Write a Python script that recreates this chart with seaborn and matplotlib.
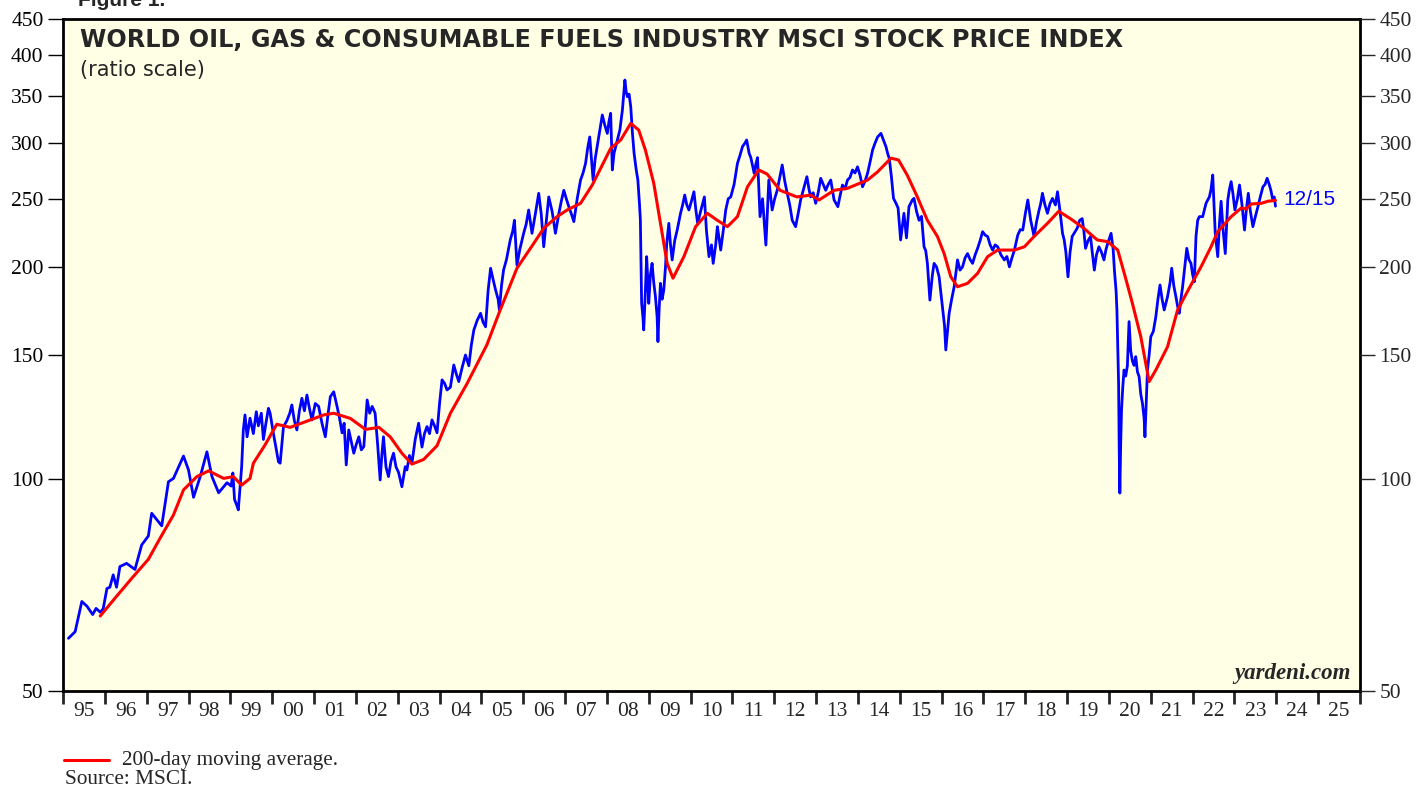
import matplotlib
matplotlib.use("Agg")
import matplotlib.pyplot as plt
from matplotlib.ticker import FixedLocator, NullLocator, NullFormatter, FixedFormatter
import seaborn as sns
import pandas as pd

# ---------------- data ----------------
blue_dates = [
    1995.13, 1995.29, 1995.45, 1995.57, 1995.71, 1995.79, 1995.89, 1995.96,
    1996.05, 1996.12, 1996.20, 1996.28, 1996.36, 1996.52, 1996.72, 1996.88,
    1997.04, 1997.12, 1997.36, 1997.52, 1997.64, 1997.88, 1998.00, 1998.12,
    1998.28, 1998.44, 1998.56, 1998.72, 1998.92, 1999.02, 1999.06, 1999.10,
    1999.15, 1999.19, 1999.27, 1999.31, 1999.35, 1999.40, 1999.47, 1999.55,
    1999.62, 1999.67, 1999.74, 1999.79, 1999.85, 1999.91, 1999.95, 2000.03,
    2000.10, 2000.15, 2000.19, 2000.27, 2000.35, 2000.42, 2000.47, 2000.53,
    2000.59, 2000.65, 2000.71, 2000.77, 2000.83, 2000.89, 2000.95, 2001.03,
    2001.11, 2001.19, 2001.27, 2001.33, 2001.39, 2001.47, 2001.55, 2001.61,
    2001.67, 2001.72, 2001.77, 2001.83, 2001.89, 2001.95, 2002.01, 2002.07,
    2002.13, 2002.19, 2002.27, 2002.33, 2002.39, 2002.46, 2002.52, 2002.58,
    2002.62, 2002.66, 2002.72, 2002.78, 2002.84, 2002.90, 2002.96, 2003.02,
    2003.10, 2003.18, 2003.22, 2003.28, 2003.34, 2003.42, 2003.50, 2003.58,
    2003.64, 2003.70, 2003.76, 2003.82, 2003.88, 2003.94, 2004.00, 2004.06,
    2004.12, 2004.18, 2004.26, 2004.34, 2004.40, 2004.46, 2004.54, 2004.62,
    2004.70, 2004.76, 2004.82, 2004.90, 2004.98, 2005.04, 2005.10, 2005.16,
    2005.22, 2005.28, 2005.34, 2005.40, 2005.43, 2005.48, 2005.53, 2005.60,
    2005.69, 2005.75, 2005.79, 2005.85, 2005.92, 2006.01, 2006.07, 2006.13,
    2006.21, 2006.29, 2006.37, 2006.43, 2006.49, 2006.55, 2006.61, 2006.69,
    2006.77, 2006.85, 2006.91, 2006.97, 2007.03, 2007.09, 2007.15, 2007.21,
    2007.29, 2007.37, 2007.43, 2007.49, 2007.54, 2007.59, 2007.63, 2007.67,
    2007.72, 2007.78, 2007.84, 2007.89, 2007.95, 2008.01, 2008.05, 2008.09,
    2008.13, 2008.17, 2008.21, 2008.26, 2008.31, 2008.37, 2008.43, 2008.46,
    2008.49, 2008.53, 2008.57, 2008.61, 2008.65, 2008.70, 2008.74, 2008.78,
    2008.80, 2008.83, 2008.86, 2008.88, 2008.92, 2008.95, 2008.98, 2009.00,
    2009.04, 2009.08, 2009.12, 2009.16, 2009.20, 2009.22, 2009.25, 2009.28,
    2009.32, 2009.36, 2009.40, 2009.43, 2009.48, 2009.52, 2009.56, 2009.62,
    2009.68, 2009.72, 2009.76, 2009.81, 2009.86, 2009.91, 2009.96, 2010.02,
    2010.08, 2010.13, 2010.17, 2010.24, 2010.33, 2010.38, 2010.44, 2010.50,
    2010.54, 2010.60, 2010.64, 2010.68, 2010.72, 2010.78, 2010.84, 2010.90,
    2010.96, 2011.04, 2011.12, 2011.18, 2011.24, 2011.30, 2011.34, 2011.40,
    2011.44, 2011.52, 2011.56, 2011.60, 2011.66, 2011.72, 2011.80, 2011.87,
    2011.95, 2012.01, 2012.07, 2012.13, 2012.19, 2012.25, 2012.31, 2012.37,
    2012.43, 2012.51, 2012.57, 2012.63, 2012.70, 2012.78, 2012.83, 2012.87,
    2012.93, 2012.99, 2013.05, 2013.11, 2013.17, 2013.23, 2013.29, 2013.35,
    2013.43, 2013.52, 2013.57, 2013.63, 2013.69, 2013.75, 2013.81, 2013.87,
    2013.93, 2013.99, 2014.05, 2014.11, 2014.17, 2014.23, 2014.29, 2014.35,
    2014.41, 2014.47, 2014.55, 2014.61, 2014.67, 2014.71, 2014.75, 2014.80,
    2014.85, 2014.91, 2014.96, 2015.02, 2015.10, 2015.16, 2015.22, 2015.30,
    2015.34, 2015.40, 2015.46, 2015.52, 2015.58, 2015.62, 2015.66, 2015.72,
    2015.78, 2015.82, 2015.88, 2015.94, 2016.02, 2016.07, 2016.10, 2016.14,
    2016.18, 2016.24, 2016.30, 2016.38, 2016.44, 2016.50, 2016.56, 2016.62,
    2016.68, 2016.74, 2016.80, 2016.86, 2016.92, 2016.98, 2017.04, 2017.10,
    2017.16, 2017.22, 2017.28, 2017.34, 2017.42, 2017.50, 2017.56, 2017.62,
    2017.68, 2017.74, 2017.82, 2017.88, 2017.94, 2018.00, 2018.06, 2018.13,
    2018.21, 2018.27, 2018.33, 2018.37, 2018.41, 2018.47, 2018.53, 2018.59,
    2018.65, 2018.72, 2018.77, 2018.83, 2018.89, 2018.93, 2018.97, 2019.02,
    2019.07, 2019.12, 2019.18, 2019.24, 2019.30, 2019.36, 2019.40, 2019.44,
    2019.50, 2019.56, 2019.60, 2019.65, 2019.70, 2019.76, 2019.82, 2019.88,
    2019.93, 2019.97, 2020.05, 2020.10, 2020.13, 2020.17, 2020.19, 2020.21,
    2020.23, 2020.245, 2020.26, 2020.28, 2020.30, 2020.33, 2020.36, 2020.40,
    2020.44, 2020.48, 2020.52, 2020.56, 2020.60, 2020.64, 2020.68, 2020.72,
    2020.76, 2020.80, 2020.84, 2020.86, 2020.89, 2020.92, 2020.96, 2021.00,
    2021.06, 2021.12, 2021.17, 2021.22, 2021.27, 2021.32, 2021.40, 2021.46,
    2021.50, 2021.55, 2021.60, 2021.64, 2021.68, 2021.72, 2021.76, 2021.81,
    2021.86, 2021.91, 2021.96, 2022.00, 2022.04, 2022.08, 2022.12, 2022.16,
    2022.24, 2022.28, 2022.32, 2022.36, 2022.40, 2022.44, 2022.48, 2022.51,
    2022.54, 2022.57, 2022.60, 2022.64, 2022.68, 2022.73, 2022.78, 2022.84,
    2022.88, 2022.92, 2022.96, 2023.01, 2023.07, 2023.12, 2023.18, 2023.24,
    2023.28, 2023.33, 2023.38, 2023.44, 2023.50, 2023.56, 2023.62, 2023.68,
    2023.73, 2023.78, 2023.83, 2023.87, 2023.91, 2023.95, 2023.98,
]
blue_values = [
    59.4, 60.7, 67.0, 66.0, 64.2, 65.5, 64.7, 65.4,
    69.9, 70.2, 73.1, 70.2, 75.1, 75.9, 74.4, 80.6,
    83.0, 89.4, 85.8, 99.1, 100.2, 107.8, 103.0, 94.2,
    100.8, 109.3, 100.8, 95.6, 98.8, 97.7, 102.0, 93.5,
    91.9, 90.4, 104.1, 117.4, 123.3, 114.8, 122.0, 116.0,
    124.6, 119.0, 124.0, 113.8, 120.0, 126.0, 124.0, 116.0,
    110.0, 105.8, 105.3, 118.7, 121.0, 124.0, 127.4, 121.0,
    117.4, 125.0, 130.2, 125.0, 131.6, 126.0, 121.3, 128.0,
    126.8, 120.0, 114.8, 123.0, 130.9, 133.0, 126.8, 122.0,
    116.3, 120.0, 104.7, 117.4, 113.0, 108.8, 112.0, 114.8,
    110.0, 111.2, 129.5, 124.0, 126.8, 124.0, 112.0, 99.7,
    108.0, 114.8, 104.0, 100.8, 106.0, 108.8, 104.0, 102.2,
    97.5, 104.1, 103.0, 108.0, 105.3, 114.0, 120.0, 111.0,
    116.0, 118.7, 116.0, 121.3, 119.0, 116.3, 128.0, 138.3,
    136.7, 133.8, 135.0, 145.2, 141.0, 137.5, 144.0, 150.0,
    144.8, 155.0, 162.8, 168.0, 171.9, 167.0, 164.5, 185.0,
    199.2, 192.0, 185.5, 180.0, 173.8, 188.0, 198.0, 205.0,
    218.5, 225.0, 233.0, 201.3, 212.0, 223.3, 230.0, 241.0,
    223.3, 238.0, 254.5, 238.0, 213.7, 232.0, 251.5, 240.0,
    223.3, 238.0, 248.0, 257.0, 250.0, 243.6, 238.0, 232.0,
    250.0, 265.8, 272.0, 280.7, 295.0, 306.0, 285.0, 265.8,
    285.0, 299.6, 315.0, 328.8, 318.0, 309.6, 322.0, 330.6,
    274.7, 290.0, 296.4, 305.0, 313.0, 334.0, 368.6, 355.0,
    349.0, 352.0, 337.8, 310.0, 290.0, 275.0, 265.8, 245.0,
    233.0, 177.6, 170.0, 162.8, 185.0, 206.9, 190.0, 177.6,
    195.0, 202.4, 190.0, 181.5, 170.0, 156.7, 175.0, 189.6,
    180.0, 185.5, 200.0, 216.0, 230.7, 215.0, 204.7, 218.0,
    225.7, 232.0, 238.4, 245.0, 253.1, 245.0, 241.0, 248.0,
    255.8, 240.0, 230.7, 240.0, 251.5, 225.0, 206.9, 215.0,
    202.4, 215.0, 228.2, 220.0, 211.4, 225.0, 241.0, 250.0,
    251.5, 262.0, 280.7, 288.0, 296.4, 300.0, 303.0, 290.0,
    286.0, 271.7, 280.0, 286.0, 235.8, 250.0, 214.9, 265.8,
    241.0, 250.0, 257.0, 268.0, 279.2, 265.0, 254.5, 245.0,
    233.0, 228.2, 238.0, 249.0, 258.0, 268.7, 258.0, 251.5,
    255.0, 246.3, 255.0, 267.3, 262.0, 257.0, 262.0, 265.8,
    249.0, 243.6, 252.0, 261.5, 258.0, 265.8, 268.0, 274.7,
    272.0, 277.5, 270.0, 260.0, 265.0, 271.7, 282.0, 293.2,
    300.0, 306.0, 309.6, 303.0, 296.4, 290.0, 285.0, 268.7,
    250.3, 246.3, 242.5, 218.5, 238.4, 220.0, 243.6, 249.0,
    250.3, 240.0, 233.0, 236.0, 213.7, 211.0, 202.4, 179.5,
    195.0, 202.4, 200.0, 193.7, 175.7, 165.0, 152.5, 162.0,
    171.9, 180.0, 187.5, 204.7, 198.0, 200.1, 206.0, 209.0,
    205.0, 202.4, 208.0, 212.6, 218.0, 224.5, 222.0, 221.0,
    215.0, 211.4, 215.0, 213.7, 208.0, 204.7, 207.0, 200.1,
    206.0, 211.4, 222.0, 226.0, 225.7, 238.0, 249.0, 233.0,
    221.0, 232.0, 241.0, 246.3, 254.5, 245.0, 238.4, 246.0,
    250.3, 245.0, 255.8, 240.0, 223.3, 218.5, 210.0, 193.7,
    210.0, 221.0, 224.0, 227.0, 233.0, 234.3, 225.0, 212.6,
    218.0, 221.0, 210.0, 198.0, 208.0, 213.7, 210.0, 204.7,
    212.0, 216.0, 223.3, 212.0, 198.0, 185.0, 173.8, 155.0,
    136.7, 110.0, 95.5, 112.0, 125.3, 135.0, 142.8, 140.0,
    144.8, 167.3, 152.0, 147.1, 145.0, 149.2, 142.0, 139.8,
    132.0, 128.1, 122.0, 114.8, 128.0, 142.8, 150.0, 159.3,
    162.0, 170.0, 180.0, 188.6, 180.0, 173.8, 181.5, 190.0,
    199.2, 188.0, 181.5, 176.0, 171.9, 180.0, 187.5, 200.0,
    212.6, 205.0, 202.4, 195.0, 190.6, 221.0, 233.0, 235.8,
    235.8, 241.0, 246.3, 249.0, 251.5, 258.0, 270.2, 245.0,
    223.3, 215.0, 206.9, 230.0, 248.0, 225.0, 209.0, 249.0,
    258.0, 264.4, 255.0, 241.0, 250.0, 261.5, 245.0, 225.7,
    240.0, 254.5, 240.0, 228.2, 236.0, 243.6, 252.0, 260.0,
    262.0, 267.3, 262.0, 257.0, 250.0, 251.5, 244.0,
]

ma_dates = [
    1995.89, 1996.24, 1996.68, 1997.04, 1997.32, 1997.64, 1997.88, 1998.20,
    1998.48, 1998.84, 1999.07, 1999.27, 1999.47, 1999.55, 1999.83, 2000.11,
    2000.43, 2000.91, 2001.23, 2001.47, 2001.87, 2002.23, 2002.55, 2002.82,
    2003.10, 2003.34, 2003.62, 2003.94, 2004.26, 2004.66, 2005.13, 2005.45,
    2005.85, 2006.25, 2006.49, 2006.81, 2007.05, 2007.37, 2007.65, 2008.09,
    2008.33, 2008.57, 2008.76, 2008.92, 2009.12, 2009.28, 2009.44, 2009.58,
    2009.84, 2010.12, 2010.40, 2010.64, 2010.88, 2011.12, 2011.36, 2011.63,
    2011.83, 2012.14, 2012.54, 2012.87, 2013.07, 2013.43, 2013.75, 2014.23,
    2014.47, 2014.79, 2014.97, 2015.18, 2015.42, 2015.66, 2015.90, 2016.06,
    2016.22, 2016.38, 2016.62, 2016.86, 2017.10, 2017.34, 2017.74, 2017.98,
    2018.21, 2018.53, 2018.80, 2019.09, 2019.40, 2019.72, 2019.97, 2020.21,
    2020.41, 2020.56, 2020.76, 2020.96, 2021.12, 2021.40, 2021.64, 2021.96,
    2022.20, 2022.44, 2022.60, 2022.92, 2023.16, 2023.28, 2023.40, 2023.64,
    2023.80, 2023.98,
]
ma_values = [
    63.9, 67.7, 72.7, 76.9, 82.4, 88.9, 96.5, 100.8,
    102.7, 100.2, 100.8, 98.0, 100.2, 105.3, 111.8, 119.6,
    118.4, 121.3, 123.3, 124.0, 121.9, 117.6, 118.4, 114.8,
    108.8, 105.0, 106.6, 111.5, 124.0, 136.7, 155.0, 173.8,
    199.2, 216.0, 227.0, 235.8, 241.0, 246.3, 261.5, 294.8,
    303.0, 319.9, 313.0, 293.2, 263.0, 230.7, 202.4, 192.8,
    206.9, 228.2, 238.4, 233.0, 228.2, 235.8, 260.0, 274.7,
    271.0, 257.0, 251.5, 253.0, 249.0, 257.0, 258.7, 265.8,
    273.0, 285.5, 283.8, 270.0, 251.5, 233.0, 221.0, 209.0,
    193.7, 187.5, 189.6, 195.9, 206.9, 211.4, 211.4, 213.7,
    221.0, 230.7, 240.0, 234.0, 227.0, 218.5, 217.3, 211.4,
    191.7, 177.6, 159.3, 137.5, 142.8, 154.1, 173.8, 188.6,
    200.1, 213.7, 224.5, 235.8, 242.5, 241.8, 245.8, 246.3,
    248.0, 248.7,
]

y_ticks = [50, 100, 150, 200, 250, 300, 350, 400, 450]
year_labels = ["95", "96", "97", "98", "99", "00", "01", "02", "03", "04",
               "05", "06", "07", "08", "09", "10", "11", "12", "13", "14",
               "15", "16", "17", "18", "19", "20", "21", "22", "23", "24", "25"]
first_year = 1995

title_text = "WORLD OIL, GAS & CONSUMABLE FUELS INDUSTRY MSCI STOCK PRICE INDEX"
subtitle_text = "(ratio scale)"
last_label = "12/15"
last_label_value = 249.0

# ---------------- figure ----------------
sns.set_style("ticks")
plt.rcParams["font.family"] = ["Liberation Serif", "DejaVu Serif"]

W, H = 1420, 788
fig = plt.figure(figsize=(W / 100, H / 100), dpi=100)
L, R, T, B = 63, 1360, 19, 691
ax = fig.add_axes([L / W, 1 - B / H, (R - L) / W, (B - T) / H])
ax.set_facecolor("#FFFFE6")

blue_df = pd.DataFrame({"date": blue_dates, "value": blue_values})
ma_df = pd.DataFrame({"date": ma_dates, "value": ma_values})

sns.lineplot(data=blue_df, x="date", y="value", ax=ax, color="#0000FF",
             linewidth=2.0, estimator=None, sort=False)
sns.lineplot(data=ma_df, x="date", y="value", ax=ax, color="#FF0000",
             linewidth=2.2, estimator=None, sort=False)

ax.set_yscale("log")
ax.set_ylim(50, 450)
n_years = len(year_labels)
ax.set_xlim(first_year, first_year + n_years)
ax.set_xlabel("")
ax.set_ylabel("")

for s in ax.spines.values():
    s.set_linewidth(2.0)
    s.set_color("black")

ax.yaxis.set_major_locator(FixedLocator(y_ticks))
ax.yaxis.set_major_formatter(FixedFormatter([str(v) for v in y_ticks]))
ax.yaxis.set_minor_locator(NullLocator())
ax.yaxis.set_minor_formatter(NullFormatter())
ax.tick_params(axis="y", which="major", direction="out", length=11, width=1,
               labelsize=15.5, pad=3, colors="black")

major_x = [first_year + i for i in range(n_years + 1)]
minor_x = [first_year + i + 0.5 for i in range(n_years)]
ax.xaxis.set_major_locator(FixedLocator(major_x))
ax.xaxis.set_major_formatter(NullFormatter())
ax.xaxis.set_minor_locator(FixedLocator(minor_x))
ax.xaxis.set_minor_formatter(FixedFormatter(year_labels))
ax.tick_params(axis="x", which="major", direction="out", length=9, width=2)
ax.tick_params(axis="x", which="minor", length=0, labelsize=15.5, pad=8)

ax2 = ax.twinx()
ax2.set_yscale("log")
ax2.set_ylim(50, 450)
ax2.yaxis.set_major_locator(FixedLocator(y_ticks))
ax2.yaxis.set_major_formatter(FixedFormatter([str(v) for v in y_ticks]))
ax2.yaxis.set_minor_locator(NullLocator())
ax2.yaxis.set_minor_formatter(NullFormatter())
ax2.tick_params(axis="y", which="major", direction="out", length=11, width=1,
                labelsize=15.5, pad=3)
for s in ax2.spines.values():
    s.set_visible(False)

# texts
sans = ["Liberation Sans", "DejaVu Sans"]
wide = ["DejaVu Sans"]
fig.text(80 / W, 1 - 40 / H, title_text, ha="left", va="center",
         fontsize=17.2, fontweight="bold", family=wide)
fig.text(80 / W, 1 - 70 / H, subtitle_text, ha="left", va="center",
         fontsize=15, family=wide)
ax.text(blue_dates[-1] + 0.2, last_label_value, last_label, color="#0000FF",
        ha="left", va="center", fontsize=15, family=sans)
ax.text(0.993, 0.010, "yardeni.com", transform=ax.transAxes, ha="right",
        va="bottom", fontsize=16.5, fontweight="bold", fontstyle="italic")

fig.text(78 / W, 1 - 6 / H, "Figure 1.", ha="left", va="baseline",
         fontsize=15, fontweight="bold", family=sans)

# legend line + note
fig.add_artist(plt.Line2D([64 / W, 109 / W], [1 - 760 / H, 1 - 760 / H],
                          color="#FF0000", linewidth=2.2))
fig.text(122 / W, 1 - 760 / H, "200-day moving average.", ha="left",
         va="center", fontsize=15.3)
fig.text(65 / W, 1 - 779 / H, "Source: MSCI.", ha="left", va="center",
         fontsize=15.3)

fig.savefig("out.png", dpi=100, facecolor="white")
